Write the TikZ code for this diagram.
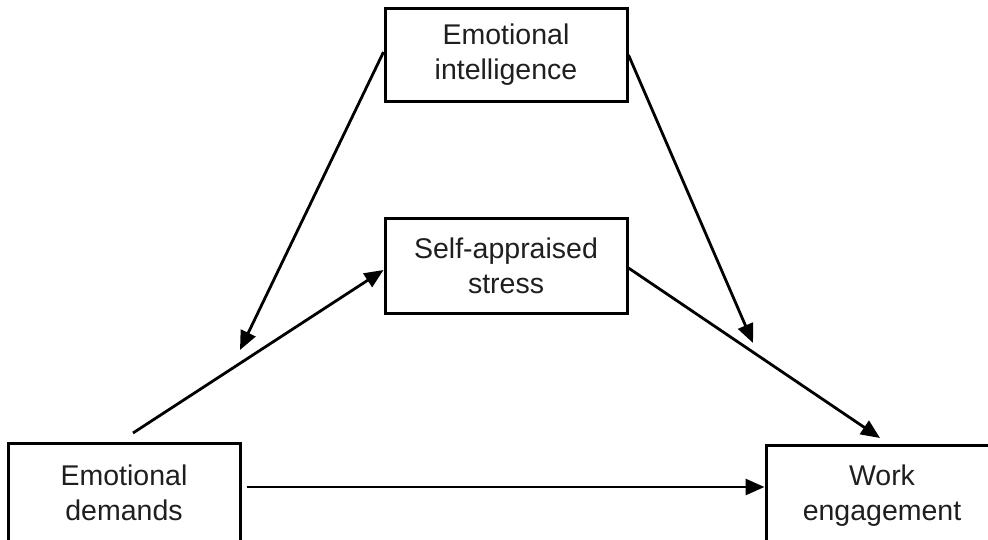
\documentclass[tikz,border=0pt]{standalone}
\usepackage{fontspec}
\setmainfont{Liberation Sans}
\usetikzlibrary{arrows.meta}
\begin{document}
\begin{tikzpicture}[x=1pt,y=-1pt,
  varbox/.style={draw=black,line width=3pt,fill=white,align=center,
    font=\fontsize{28.5}{35}\selectfont,text=black!88,inner sep=0pt},
  link/.style={line width=2.8pt,-{Triangle[length=19pt,width=16pt]}}]
\useasboundingbox (0,0) rectangle (988,540);
\clip (0,0) rectangle (988,540);
\fill[white] (0,0) rectangle (988,540);
\node[varbox,minimum width=242pt,minimum height=93pt] (ei) at (506,55) {Emotional\\intelligence};
\node[varbox,minimum width=242pt,minimum height=94pt] (sas) at (506,266) {Self-appraised\\stress};
\node[varbox,minimum width=232pt,minimum height=100pt] (ed) at (124,493) {Emotional\\demands};
\node[varbox,minimum width=232pt,minimum height=101pt] (we) at (882,495.5) {Work\\engagement};
\coordinate (t1) at (240,350);
\coordinate (t2) at (753,343);
\coordinate (s3) at (133,433);
\coordinate (t4) at (880,438);
\draw[link] (ei.west |- 0,52) -- (t1);
\draw[link] (ei.east |- 0,55) -- (t2);
\draw[link] (s3) -- (sas.west |- 0,270);
\draw[link] (sas.east |- 0,268) -- (t4);
\draw[link] ([xshift=5pt]ed.east |- 0,487) -- (we.west |- 0,487);
\end{tikzpicture}
\end{document}
